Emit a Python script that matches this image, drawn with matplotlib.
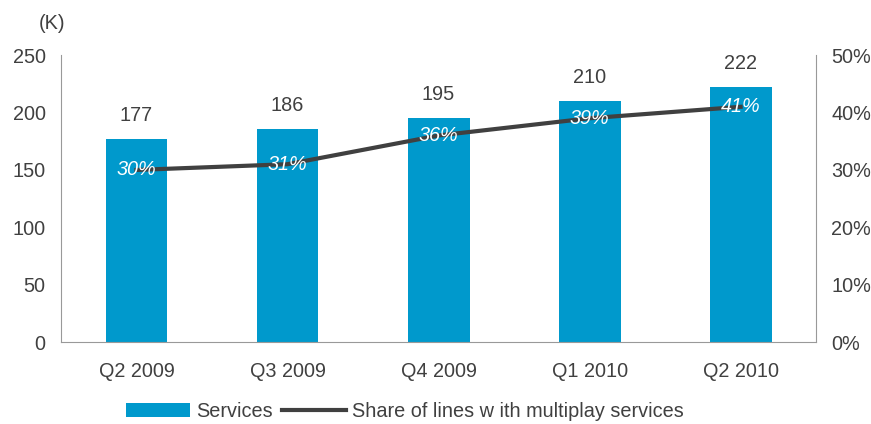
import matplotlib.pyplot as plt
import numpy as np

plt.rcParams['font.family'] = ['Liberation Sans', 'DejaVu Sans']

quarters = ['Q2 2009', 'Q3 2009', 'Q4 2009', 'Q1 2010', 'Q2 2010']
services = [177, 186, 195, 210, 222]
share = [30, 31, 36, 39, 41]

bar_color = '#0099cc'
dark = '#404040'
grey = '#999999'
fs = 14.3

fig = plt.figure(figsize=(8.71, 4.24), dpi=100)
ax = fig.add_axes([0.070, 0.193, 0.867, 0.677])
ax2 = ax.twinx()

x = np.arange(len(quarters))
bars = ax.bar(x, services, width=0.41, color=bar_color, label='Services', zorder=2)
line, = ax2.plot(x, share, color=dark, lw=3, zorder=3,
                 label='Share of lines w ith multiplay services')

ax.set_ylim(0, 250)
ax.set_yticks(range(0, 251, 50))
ax2.set_ylim(0, 50)
ax2.set_yticks(range(0, 51, 10))
ax2.set_yticklabels([f'{v}%' for v in range(0, 51, 10)])
ax.set_xlim(-0.5, len(quarters) - 0.5)
ax.set_xticks(x)
ax.set_xticklabels(quarters)

for a in (ax, ax2):
    a.tick_params(length=0, labelsize=fs, colors=dark)
    a.spines['top'].set_visible(False)
    a.spines['left'].set_color(grey)
    a.spines['right'].set_color(grey)
    a.spines['bottom'].set_color(grey)
ax.tick_params(axis='y', pad=11)
ax2.tick_params(axis='y', pad=11)
ax.tick_params(axis='x', pad=14)
ax2.spines['left'].set_visible(False)
ax2.spines['bottom'].set_visible(False)
ax.spines['right'].set_visible(False)

for xi, v in zip(x, services):
    ax.text(xi, v + 12, str(v), ha='center', va='bottom', fontsize=fs, color=dark)
for xi, p in zip(x, share):
    ax2.text(xi, p, f'{p}%', ha='center', va='center', fontsize=fs,
             color='white', style='italic', zorder=4)

fig.text(0.060, 0.945, '(K)', ha='center', va='center', fontsize=fs, color=dark)

fig.legend(handles=[bars, line], loc='center', bbox_to_anchor=(0.465, 0.03),
           ncol=2, frameon=False, fontsize=fs, handlelength=3.2,
           handletextpad=0.3, columnspacing=0.5, labelcolor=dark)

fig.savefig('out.png', dpi=100)
